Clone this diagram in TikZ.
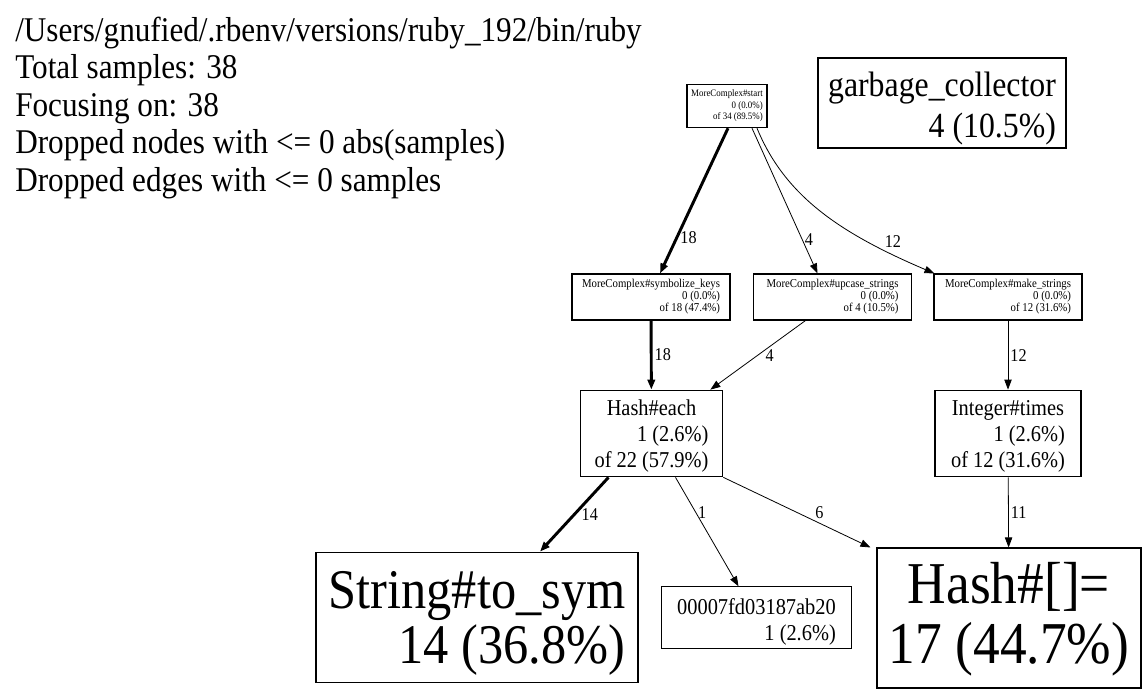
\documentclass[tikz,border=0pt]{standalone}
\usepackage{fontspec}
\newfontfamily\dotfont[FakeStretch=0.9]{Liberation Serif}
\usetikzlibrary{arrows.meta,calc}
\newcommand\proflabel[2]{\begin{tabular}[t]{@{}r@{}}\multicolumn{1}{@{}c@{}}{#1}\\#2\end{tabular}}
\tikzset{
  box/.style={draw, line width=0.8pt, inner sep=0pt},
  lift/.style={text height=0pt, text depth=#1},
  tinybox/.style={box, font={\dotfont\fontsize{9}{8.25}\selectfont}},
  midbox/.style={box, font={\dotfont\fontsize{17}{19.5}\selectfont}},
  bigbox/.style={box, font={\dotfont\fontsize{26.5}{30.75}\selectfont}},
  call/.style={-{Triangle[length=7.5pt,width=5.5pt]}, line width=0.6pt},
  hotcall/.style={call, line width=2.2pt},
  elabel/.style={font={\dotfont\fontsize{13.5}{15}\selectfont}, inner sep=1.5pt},
  hdr/.style={font={\dotfont\fontsize{26}{28}\selectfont}, inner sep=0pt, anchor=base west}
}
\begin{document}
\begin{tikzpicture}[x=0.75pt, y=-0.75pt]
  \useasboundingbox (0,0) rectangle (1145,693);

  % Kopfzeilen
  \foreach \txt [count=\i] in {{/Users/gnufied/.rbenv/versions/ruby\_192/bin/ruby}, {Total samples: 38}, {Focusing on: 38}, {Dropped nodes with <= 0 abs(samples)}, {Dropped edges with <= 0 samples}}
    \node[hdr] (hdr\i) at (15, {41+37.5*(\i-1)}) {\txt};

  % Funktionen
  \node[tinybox, font={\dotfont\fontsize{7.4}{8.5}\selectfont}, minimum width=60pt, minimum height=32.5pt] (start) at (727,106) {\proflabel{MoreComplex\#start}{0 (0.0\%)\\of 34 (89.5\%)}};
  \node[bigbox, lift=9.75pt, minimum width=186pt, minimum height=67.5pt] (gc) at (942,103) {\proflabel{garbage\_collector}{4 (10.5\%)}};
  \node[tinybox, minimum width=118.5pt, minimum height=34.5pt] (symk) at (651,297) {\proflabel{MoreComplex\#symbolize\_keys}{0 (0.0\%)\\of 18 (47.4\%)}};
  \node[tinybox, minimum width=119pt, minimum height=34.5pt] (upcase) at (832.5,297) {\proflabel{MoreComplex\#upcase\_strings}{0 (0.0\%)\\of 4 (10.5\%)}};
  \node[tinybox, minimum width=111pt, minimum height=34.5pt] (make) at (1008,297) {\proflabel{MoreComplex\#make\_strings}{0 (0.0\%)\\of 12 (31.6\%)}};
  \node[midbox, lift=27.75pt, minimum width=107pt, minimum height=65pt] (each) at (651.5,433.5) {\proflabel{Hash\#each}{1 (2.6\%)\\of 22 (57.9\%)}};
  \node[midbox, lift=27.75pt, minimum width=109.5pt, minimum height=65pt] (times) at (1008,433.5) {\proflabel{Integer\#times}{1 (2.6\%)\\of 12 (31.6\%)}};
  \node[box, lift=14.25pt, font={\dotfont\fontsize{42}{40.5}\selectfont}, minimum width=241.5pt, minimum height=98pt] (tosym) at (477,617.5) {\proflabel{String\#to\_sym}{14 (36.8\%)}};
  \node[midbox, lift=5.25pt, font={\dotfont\fontsize{17}{20}\selectfont}, minimum width=143pt, minimum height=46pt] (addr) at (756.5,617.5) {\proflabel{00007fd03187ab20}{1 (2.6\%)}};
  \node[box, lift=22pt, font={\dotfont\fontsize{44.5}{45}\selectfont}, minimum width=198pt, minimum height=105pt] (hashset) at (1009,618) {\proflabel{Hash\#[]=}{17 (44.7\%)}};

  % Aufrufe
  \draw[hotcall] ($(start.south)+(1,0)$) -- node[elabel, right, pos=.75] (l1) {18} ($(symk.north)+(9,0)$);
  \draw[call] ($(start.south)+(25,0)$) -- node[elabel, right, pos=.77] (l2) {4} ($(upcase.north)+(-15,0)$);
  \draw[call] ($(start.south)+(30,0)$) .. controls ($(start.south)+(58,68)$) and ($(start.south)+(113,105)$) .. node[elabel, above right, pos=.8] (l3) {12} ($(make.north west)+(1,0)$);
  \draw[hotcall] (symk) -- node[elabel, right] (l4) {18} (each);
  \draw[call] ($(upcase.south)+(-27,0)$) -- node[elabel, right=4pt] (l5) {4} ($(each.north east)+(-13,0)$);
  \draw[call] (make) -- node[elabel, right] (l6) {12} (times);
  \draw[hotcall] ($(each.south)+(-43,0)$) -- node[elabel, right=3pt] (l7) {14} ($(tosym.north)+(63,0)$);
  \draw[call] ($(each.south)+(24,0)$) -- node[elabel, right, pos=.32] (l8) {1} ($(addr.north)+(-18,0)$);
  \draw[call] (each.south east) -- node[elabel, right=12pt] (l9) {6} ($(hashset.north west)+(-6,0)$);
  \draw[call] (times) -- node[elabel, right] (l10) {11} (hashset);
\end{tikzpicture}
\end{document}
